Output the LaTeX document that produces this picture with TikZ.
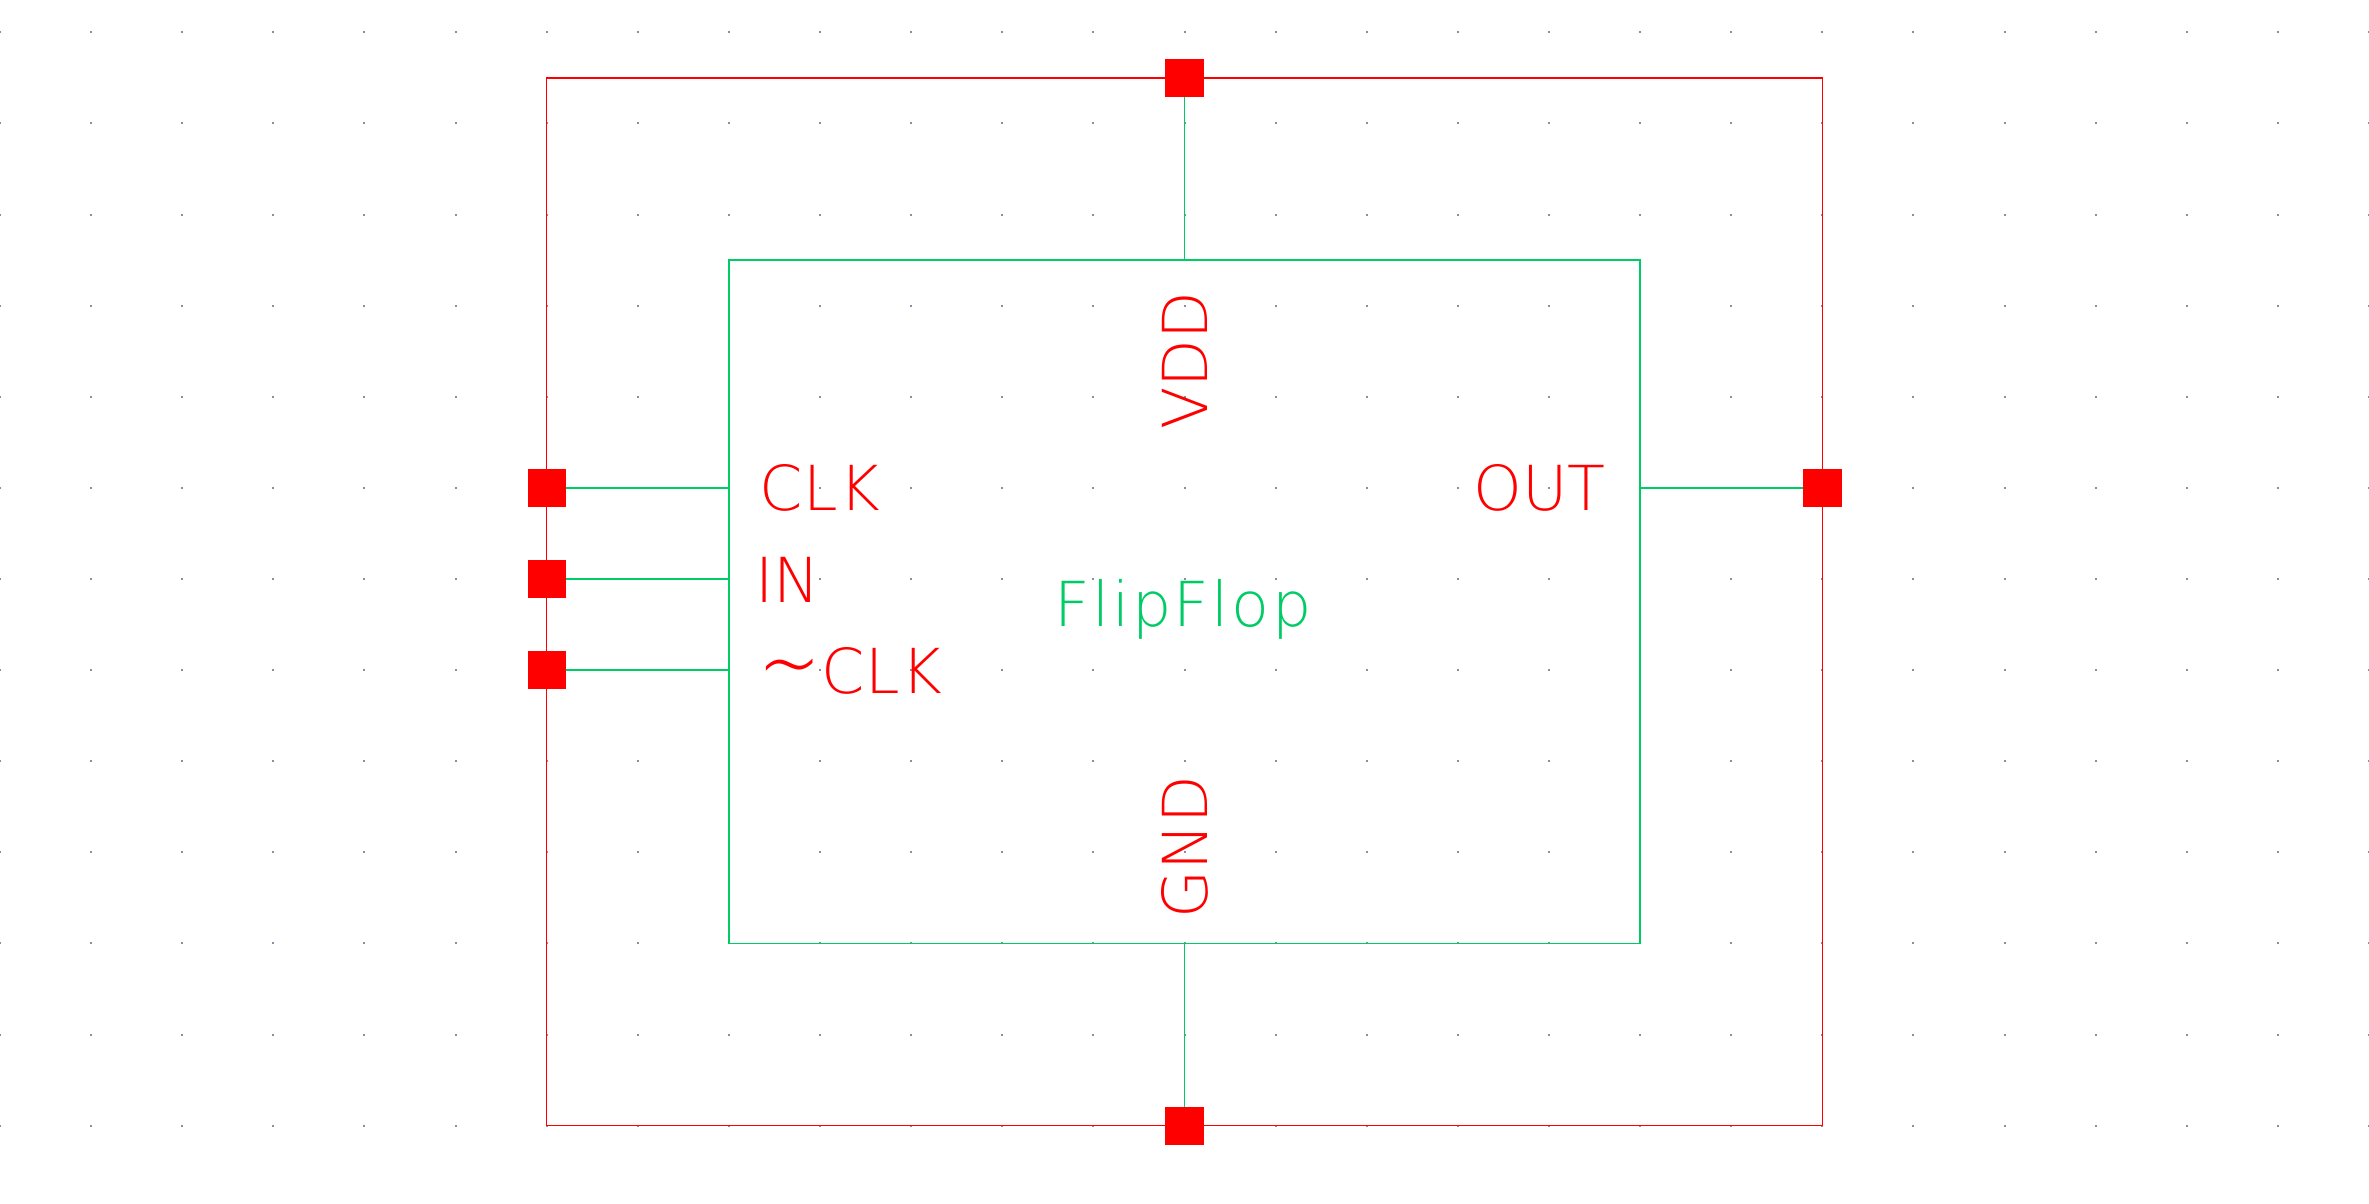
\documentclass[tikz,border=0pt]{standalone}
\usepackage{fontspec}
\setmainfont{DejaVu Sans}
\newfontfamily\thinfont{DejaVu Sans ExtraLight}
\newfontfamily\thinwidefont{DejaVu Sans ExtraLight}[LetterSpace=4]
\definecolor{wirered}{RGB}{255,0,0}
\definecolor{netgreen}{RGB}{0,204,102}
\definecolor{gridc}{RGB}{140,140,170}
\tikzset{
  wire/.style={draw=wirered, line width=1.4pt},
  net/.style={draw=netgreen, line width=1.4pt},
  pad/.style={rectangle, fill=wirered, draw=none, minimum size=38pt, inner sep=0pt},
  pinlbl/.style={text=wirered, inner sep=0pt, font=\thinfont\fontsize{62}{62}\selectfont},
  celllbl/.style={text=netgreen, inner sep=0pt, font=\thinwidefont\fontsize{62}{62}\selectfont}
}
\begin{document}
\begin{tikzpicture}[x=1pt,y=-1pt]
\useasboundingbox (0,0) rectangle (2369,1203);
\fill[white] (0,0) rectangle (2369,1203);
% grid dots
\foreach \i in {0,...,26}{
  \foreach \j in {0,...,12}{
    \fill[gridc] ({\i*91.115-1},{32.3+\j*91.115-1}) rectangle ++(2,2);
  }
}
% pads (named first, drawn later on top)
\path
  node[pad, fill=none] (pV) at (1184.5,77.9) {}
  node[pad, fill=none] (pG) at (1184.5,1125.7) {}
  node[pad, fill=none] (pC) at (546.7,487.9) {}
  node[pad, fill=none] (pI) at (546.7,579.0) {}
  node[pad, fill=none] (pN) at (546.7,670.1) {}
  node[pad, fill=none] (pO) at (1822.3,487.9) {};
% outer red wire loop
\draw[wire] (pC |- pV.center) rectangle (pO |- pG.center);
% cell box
\node[draw=netgreen, line width=1.4pt, rectangle, inner sep=0pt,
      minimum width=911.2pt, minimum height=683.4pt] (ff) at (1184.5,601.8) {};
% pin stubs
\draw[net] (pV.center) -- (ff.north);
\draw[net] (pG.center) -- (ff.south);
\draw[net] (pC.center) -- (pC.center -| ff.west);
\draw[net] (pI.center) -- (pI.center -| ff.west);
\draw[net] (pN.center) -- (pN.center -| ff.west);
\draw[net] (pO.center) -- (pO.center -| ff.east);
% pads on top
\foreach \p in {pV,pG,pC,pI,pN,pO}{
  \fill[wirered] (\p.south west) rectangle (\p.north east);
}
% labels
\node[pinlbl, anchor=base west] (tC) at (759.5,510) {C\kern1ptL\kern1ptK};
\node[pinlbl, anchor=base west] (tI) at (755,602.7) {IN};
\node[pinlbl, anchor=base west] (tN) at (758,693) {\raisebox{-1pt}{\scalebox{1.2}[1.5]{\char"7E}}\kern1ptC\kern1ptL\kern1ptK};
\node[pinlbl, anchor=base east] (tO) at (1606,510) {OUT};
\node[pinlbl, anchor=base, rotate=90] (tV) at (1207,361) {VDD};
\node[pinlbl, anchor=base, rotate=90] (tG) at (1207,847) {GND};
\node[celllbl, anchor=base] (tF) at (1183,626) {FlipFlop};
\end{tikzpicture}
\end{document}
